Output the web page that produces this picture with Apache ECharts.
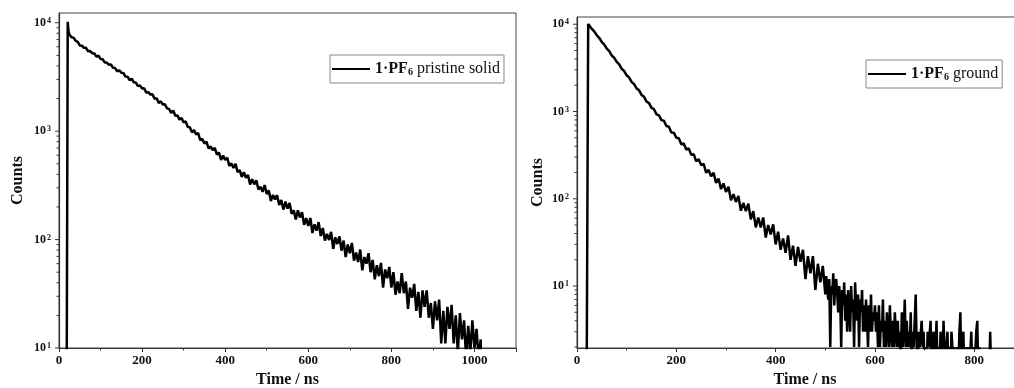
<!DOCTYPE html>
<html>
<head>
<meta charset="utf-8">
<script src="https://cdn.jsdelivr.net/npm/echarts@6.0.0/dist/echarts.min.js"></script>
<style>
  html, body { margin: 0; padding: 0; background: #fff; }
  #chart { width: 1014px; height: 388px; }
</style>
</head>
<body>
<div id="chart"></div>
<script>
// ---- data ----
// left panel: 1·PF6 pristine solid
const leftRiseTime = [18, 21, 23];
const leftRiseCounts = [1, 10200, 8300];
const leftStart = 25;          // ns, first point of the decay
const leftStep = 5;            // ns between points
const leftCounts = [
  7810, 7340, 7290, 6820, 6650, 6180,
  6140, 5880, 5870, 5460, 5480, 5240, 5200, 4870, 4960, 4640,
  4600, 4305, 4295, 4105, 4130, 3840, 3820, 3570, 3645, 3455,
  3443, 3192, 3179, 2950, 3050, 2825, 2803, 2601, 2643, 2467,
  2491, 2267, 2289, 2174, 2191, 1987, 2008, 1822, 1883, 1761,
  1772, 1624, 1601, 1476, 1549, 1389, 1398, 1279, 1321, 1202,
  1232, 1090, 1088, 974, 1023, 930, 961, 825, 848, 769,
  801, 692, 722, 670, 700, 607, 636, 543, 595, 543,
  569, 479, 504, 458, 499, 418, 437, 378, 419, 372,
  395, 322, 360, 323, 352, 290, 308, 276, 318, 263,
  284, 227, 258, 235, 257, 208, 232, 189, 224, 193,
  218, 173, 186, 153, 186, 160, 179, 137, 158, 134,
  158, 115, 138, 121, 145, 108, 128, 98, 113, 99,
  118, 82, 105, 91, 107, 79, 98, 69, 90, 75,
  93, 64, 76, 62, 81, 52, 69, 60, 75, 50,
  65, 43, 58, 46, 61, 36, 53, 44, 56, 36,
  50, 31, 41, 32, 49, 32, 41, 23, 36, 29,
  39, 22, 33, 19, 34, 24, 34, 19, 26, 15,
  27, 18, 28, 11, 22, 11, 24, 15, 25, 11,
  20, 9, 21, 12, 18, 8, 16, 9, 18, 10,
  15, 8, 12
];
const leftEndTime = [1017];
const leftEndCounts = [1];

// right panel: 1·PF6 ground
const rightRiseTime = [19.5, 22.5];
const rightRiseCounts = [1, 10050];
const rightStart = 25;
const rightStep = 5;
const rightCounts = [
  9700, 8820, 8230, 7440, 6950, 6230,
  5830, 5250, 4910, 4380, 4110, 3700, 3470, 3080, 2910, 2600,
  2450, 2180, 2060, 1840, 1750, 1550, 1475, 1300, 1248, 1100,
  1062, 930, 905, 796, 785, 683, 668, 574, 572, 500,
  493, 421, 430, 367, 378, 318, 325, 268, 284, 243,
  252, 199, 214, 181, 199, 152, 170, 129, 150, 120,
  137, 96, 113, 92, 108, 73, 90, 72, 88, 58,
  72, 47, 61, 47, 61, 36, 50, 39, 51, 30,
  42, 26, 35, 24, 38, 20, 29, 17, 28, 19,
  26, 12, 22, 14, 22, 9, 18, 11, 17, 8
];
// the noisy tail, finer channels
const rightTailStart = 502;
const rightTailStep = 2;
const rightTailCounts = [
  13, 9, 7, 12, 2, 10, 8, 14, 6, 11,
  12, 8, 5, 10, 7, 2, 9, 6, 11, 4,
  8, 3, 9, 6, 3, 10, 5, 7, 2, 11,
  6, 4, 8, 2, 7, 5, 9, 3, 6, 3,
  7, 4, 2, 6, 3, 8, 3, 5, 4, 6,
  3, 5, 2, 6, 2, 4, 3, 7, 2, 4,
  2, 5, 3, 2, 6, 3, 2, 4, 2, 5,
  3, 2, 4, 2, 3, 1, 5, 2, 3, 7,
  2, 4, 2, 3, 2, 5, 1, 3, 2, 4,
  8, 2, 1, 3, 2, 2, 4, 2, 3, 1,
  2, 1, 3, 2, 2, 4, 1, 2, 3, 1,
  2, 4, 1, 2, 1, 3, 2, 1, 4, 2,
  1, 2, 3, 1, 2, 1, 3, 2, 1, 2,
  1, 1, 2, 1, 3, 5, 1, 2, 3, 1,
  2, 1, 1, 2, 1, 1, 3, 1, 2, 1,
  1, 3, 4, 1, 2, 1, 1, 1, 1, 1,
  1, 1, 1, 1, 1, 3, 1, 1
];

// axis tick values
const leftMajorTicks = [10, 100, 1000, 10000];
const leftMinorTicks = [20, 30, 40, 50, 60, 70, 80, 90, 200, 300, 400, 500, 600, 700, 800, 900,
  2000, 3000, 4000, 5000, 6000, 7000, 8000, 9000];
const rightMajorTicks = [10, 100, 1000, 10000];
const rightMinorTicks = [2, 3, 4, 5, 6, 7, 8, 9, 20, 30, 40, 50, 60, 70, 80, 90,
  200, 300, 400, 500, 600, 700, 800, 900, 2000, 3000, 4000, 5000, 6000, 7000, 8000, 9000];

const leftName = '1·PF6 pristine solid';
const rightName = '1·PF6 ground';

// ---- helpers ----
const serif = '"Liberation Serif", "Times New Roman", serif';
const ink = '#111';

const zip = (times, counts) => times.map((t, i) => [t, counts[i]]);
const stepped = (start, step, counts) => counts.map((c, i) => [start + i * step, c]);

const leftData = zip(leftRiseTime, leftRiseCounts)
  .concat(stepped(leftStart, leftStep, leftCounts), zip(leftEndTime, leftEndCounts));
const rightData = zip(rightRiseTime, rightRiseCounts)
  .concat(stepped(rightStart, rightStep, rightCounts), stepped(rightTailStart, rightTailStep, rightTailCounts));

const powLabel = v => {
  const e = Math.log10(v);
  return Math.abs(e - Math.round(e)) < 1e-6 ? '10{sup|' + Math.round(e) + '}' : '';
};

function xAxisFor(gridIndex, max, namePad) {
  return {
    type: 'value', gridIndex, min: 0, max, interval: 200,
    name: 'Time / ns', nameLocation: 'middle', nameGap: 22,
    nameTextStyle: { fontFamily: serif, fontWeight: 'bold', fontSize: 16, color: ink, padding: [0, 0, 0, namePad] },
    axisLine: { onZero: false, lineStyle: { color: '#333', width: 1.2 } },
    axisTick: { length: 4, lineStyle: { color: '#333' } },
    minorTick: { show: true, splitNumber: 2, length: 2.5, lineStyle: { color: '#333' } },
    splitLine: { show: false },
    axisLabel: {
      margin: 6, showMaxLabel: false, formatter: v => String(v),
      fontFamily: serif, fontWeight: 'bold', fontSize: 13, color: ink
    }
  };
}

function yAxisFor(gridIndex, min, max, gap) {
  return {
    type: 'log', logBase: 10, gridIndex, min, max,
    name: 'Counts', nameLocation: 'middle', nameGap: gap,
    nameTextStyle: { fontFamily: serif, fontWeight: 'bold', fontSize: 16, color: ink },
    axisLine: { show: true, lineStyle: { color: '#333', width: 1.2 } },
    axisTick: { show: false },
    splitLine: { show: false },
    axisLabel: {
      margin: 8, formatter: powLabel,
      fontFamily: serif, fontWeight: 'bold', fontSize: 12, color: ink,
      rich: { sup: { fontFamily: serif, fontWeight: 'bold', fontSize: 8, color: ink, verticalAlign: 'top', padding: [0, 0, 0, 1] } }
    }
  };
}

// y ticks drawn outward from the left axis at the log positions
function tickSeries(axisIndex, values, len) {
  return {
    type: 'custom', xAxisIndex: axisIndex, yAxisIndex: axisIndex, silent: true, z: 5,
    data: values.map(v => [0, v]),
    renderItem: (params, api) => {
      const y = api.coord([0, api.value(1)])[1];
      const x = params.coordSys.x;
      return { type: 'line', shape: { x1: x - len, y1: y, x2: x, y2: y }, style: { stroke: '#333', lineWidth: 1 } };
    }
  };
}

function legendFor(name, left, top, label) {
  return {
    data: [name], left, top,
    icon: 'rect', itemWidth: 38, itemHeight: 2,
    borderColor: '#888', borderWidth: 1, padding: [6, 4, 6, 2],
    formatter: () => '{b|1·PF}{s|6}{r| ' + label + '}',
    textStyle: {
      color: ink, fontFamily: serif, fontSize: 16,
      rich: {
        b: { fontFamily: serif, fontWeight: 'bold', fontSize: 16, color: ink },
        s: { fontFamily: serif, fontWeight: 'bold', fontSize: 10, color: ink, verticalAlign: 'bottom' },
        r: { fontFamily: serif, fontSize: 16, color: ink }
      }
    }
  };
}

const chart = echarts.init(document.getElementById('chart'));

chart.setOption({
  animation: false,
  backgroundColor: '#fff',
  grid: [
    { left: 59, top: 13, width: 457, height: 335, outerBoundsMode: 'none', show: true, borderColor: '#444', borderWidth: 1 },
    { left: 577, top: 17, width: 440, height: 331, outerBoundsMode: 'none', show: true, borderColor: '#444', borderWidth: 1 }
  ],
  xAxis: [xAxisFor(0, 1100, 0), xAxisFor(1, 886, 16)],
  yAxis: [yAxisFor(0, 10, 12300, 33), yAxisFor(1, 1.95, 12100, 31)],
  legend: [
    legendFor(leftName, 330, 55, 'pristine solid'),
    legendFor(rightName, 866, 60, 'ground')
  ],
  series: [
    {
      name: leftName, type: 'line', xAxisIndex: 0, yAxisIndex: 0,
      data: leftData, showSymbol: false, color: '#000',
      lineStyle: { color: '#000', width: 2.5 }, clip: true
    },
    {
      name: rightName, type: 'line', xAxisIndex: 1, yAxisIndex: 1,
      data: rightData, showSymbol: false, color: '#000',
      lineStyle: { color: '#000', width: 2.5 }, clip: true
    },
    tickSeries(0, leftMajorTicks, 4),
    tickSeries(0, leftMinorTicks, 2.5),
    tickSeries(1, rightMajorTicks, 4),
    tickSeries(1, rightMinorTicks, 2.5)
  ]
});

window.addEventListener('resize', () => chart.resize());
</script>
</body>
</html>
